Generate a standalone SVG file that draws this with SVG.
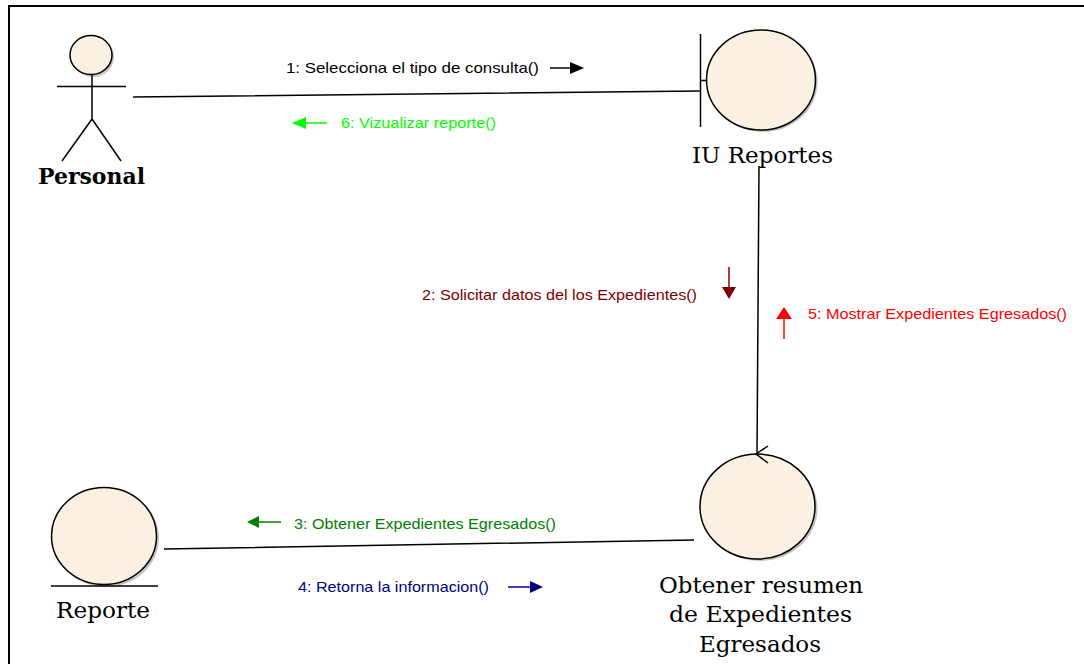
<svg xmlns="http://www.w3.org/2000/svg" width="1084" height="664" viewBox="0 0 1084 664">
<style>
.n{fill:#fbf1e3;stroke:#000;stroke-width:1.5}
.s{fill:#c4c4c4;stroke:none}
.l{fill:none;stroke:#000;stroke-width:1.5}
.t{font-family:"DejaVu Serif","Liberation Serif",serif;fill:#000;font-size:22px}
.m{font-family:"Liberation Sans",Arial,sans-serif;font-size:14.5px}
</style>
<rect width="1084" height="664" fill="#fff"/>
<path d="M9 664V6H1084" fill="none" stroke="#000" stroke-width="2"/>
<g id="personal">
<ellipse class="s" cx="93" cy="57" rx="21" ry="20"/>
<ellipse class="n" cx="91" cy="55" rx="21" ry="19.500"/>
<path class="l" d="M92 75V119M57 86.500H126M92 119L62 161M92 119L121 161"/>
<text class="t" x="38" y="184" font-weight="bold" textLength="107" lengthAdjust="spacingAndGlyphs">Personal</text>
</g>
<g id="iu-reportes">
<ellipse class="s" cx="763" cy="82" rx="54.500" ry="50"/>
<ellipse class="n" cx="761" cy="80" rx="54.500" ry="50"/>
<path class="l" d="M700.500 34V127M700.500 80.500H707"/>
<text class="t" x="692" y="163" textLength="141" lengthAdjust="spacingAndGlyphs">IU Reportes</text>
</g>
<g id="obtener">
<ellipse class="s" cx="760" cy="508.500" rx="57.500" ry="52.500"/>
<ellipse class="n" cx="757.500" cy="506.500" rx="57.500" ry="52.500"/>
<text class="t" x="659" y="593" textLength="204" lengthAdjust="spacingAndGlyphs">Obtener resumen</text>
<text class="t" x="669" y="622" textLength="183" lengthAdjust="spacingAndGlyphs">de Expedientes</text>
<text class="t" x="699" y="652" textLength="122" lengthAdjust="spacingAndGlyphs">Egresados</text>
</g>
<g id="reporte">
<ellipse class="s" cx="106" cy="538" rx="53" ry="49"/>
<ellipse class="n" cx="104" cy="536" rx="52.500" ry="48.500"/>
<path class="l" d="M51 586H158"/>
<text class="t" x="56" y="618" textLength="94" lengthAdjust="spacingAndGlyphs">Reporte</text>
</g>
<g id="connectors">
<path class="l" d="M133 97L700 91M759 166L757 454M164 549L694 540"/>
<path class="l" d="M768 446L756 454L768 463"/>
</g>
<g id="messages">
<text class="m" x="286" y="73" fill="#000" textLength="253" lengthAdjust="spacingAndGlyphs">1: Selecciona el tipo de consulta()</text>
<path d="M550 68H570" stroke="#000" stroke-width="1.500"/><path d="M584 68L570 62V74Z" fill="#000"/>
<text class="m" x="341" y="128" fill="#00ff00" textLength="155" lengthAdjust="spacingAndGlyphs">6: Vizualizar reporte()</text>
<path d="M327 123H306" stroke="#00ff00" stroke-width="1.500"/><path d="M292 123L306 117V129Z" fill="#00ff00"/>
<text class="m" x="422" y="300" fill="#800000" textLength="275" lengthAdjust="spacingAndGlyphs">2: Solicitar datos del los Expedientes()</text>
<path d="M729 267V287" stroke="#800000" stroke-width="1.500"/><path d="M729 299L722 287H736Z" fill="#800000"/>
<text class="m" x="808" y="319" fill="#ff0000" textLength="259" lengthAdjust="spacingAndGlyphs">5: Mostrar Expedientes Egresados()</text>
<path d="M784 339V319" stroke="#ff0000" stroke-width="1.500"/><path d="M784 307L776 319H792Z" fill="#ff0000"/>
<text class="m" x="294" y="529" fill="#008000" textLength="262" lengthAdjust="spacingAndGlyphs">3: Obtener Expedientes Egresados()</text>
<path d="M281 522H259" stroke="#008000" stroke-width="1.500"/><path d="M247 522L259 516V528Z" fill="#008000"/>
<text class="m" x="298" y="592" fill="#000080" textLength="191" lengthAdjust="spacingAndGlyphs">4: Retorna la informacion()</text>
<path d="M508 587H530" stroke="#000080" stroke-width="1.500"/><path d="M543 587L530 581V593Z" fill="#000080"/>
</g>
</svg>
